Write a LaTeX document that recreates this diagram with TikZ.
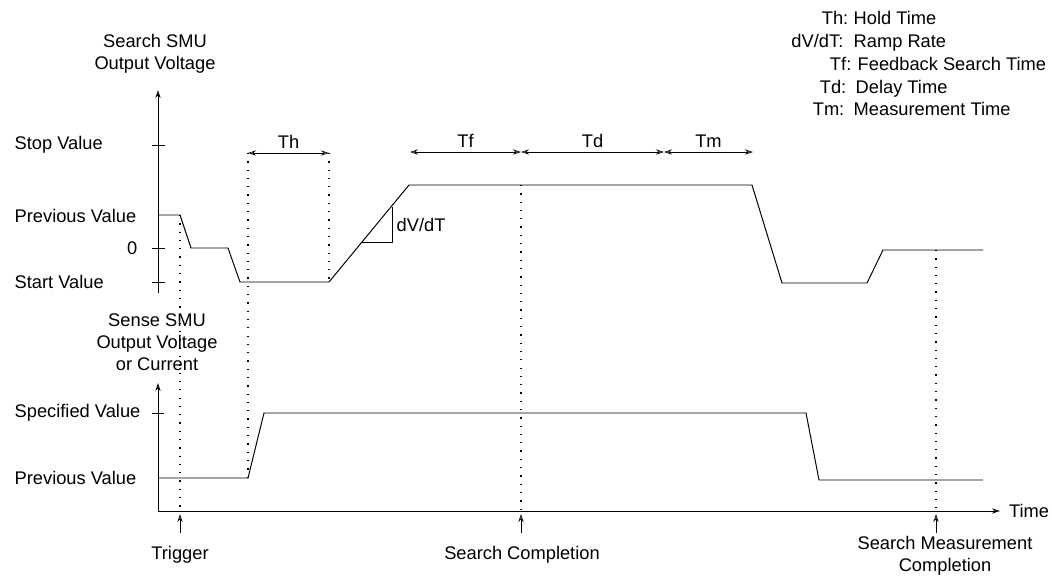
\documentclass[tikz,border=0pt]{standalone}
\usepackage{fontspec}
\setmainfont{Liberation Sans}
\usetikzlibrary{arrows.meta,positioning}
\tikzset{
  >={Stealth[length=2mm,width=1.3mm,open]},
  axis/.style={->,line width=0.6pt},
  trace/.style={line width=0.7pt,line join=round},
  guide/.style={line width=0.9pt,dash pattern=on 0.9pt off 5pt},
  span/.style={<->,line width=0.5pt},
  tickmark/.style={line width=0.6pt},
  evptr/.style={->,line width=0.5pt},
  lbl/.style={font=\fontsize{13}{15.8}\selectfont,inner sep=1pt},
  ylbl/.style={lbl,anchor=west},
  evlbl/.style={lbl,align=center},
  keylbl/.style={lbl,anchor=base east},
  desclbl/.style={lbl,anchor=base west},
}

\begin{document}
\begin{tikzpicture}[x=0.025cm,y=-0.025cm]
  \useasboundingbox (0,0) rectangle (1052,586);
  % axes
  \coordinate (o1) at (158,293);
  \coordinate (t1) at (158,90);
  \coordinate (o2) at (158,511);
  \coordinate (t2) at (158,383);
  \coordinate (tx) at (1000,511);
  \draw[axis] (o1) -- (t1);
  \draw[axis] (o2) -- (t2);
  \draw[axis] (o2) -- (tx);
  \node[lbl] (tlbl) at (1029,511) {Time};
  \node[evlbl] (ylbl1) at (155,54) {Search SMU\\Output Voltage};
  \node[evlbl] (ylbl2) at (157,342) {Sense SMU\\Output Voltage\\or Current};
  \foreach \y in {145,248,282} \draw[tickmark] (152,\y) -- (165,\y);
  \draw[tickmark] (152,413) -- (164,413);
  \node[ylbl] (stop) at (13,145) {Stop Value};
  \node[ylbl] (prev1) at (13,216) {Previous Value};
  \node[lbl,anchor=east] (zero) at (139,248) {0};
  \node[ylbl] (start) at (13,282) {Start Value};
  \node[ylbl] (spec) at (13,413) {Specified Value};
  \node[ylbl] (prev2) at (13,478) {Previous Value};

  % waveforms
  \draw[trace] (158,215) -- (180,215) -- (191,248) -- (228,248) -- (240,282)
    -- (329,282) -- (409,185) -- (752,185) -- (782,283) -- (867,283)
    -- (883,250) -- (983,250);
  \draw[trace] (362,242) -- (392,242) -- (392,207);
  \node[lbl,anchor=west] (rate) at (395,225) {dV/dT};
  \draw[trace] (158,478) -- (248,478) -- (264,413) -- (806,413) -- (819,480)
    -- (983,480);

  % timing guides
  \coordinate (trg) at (180,215);
  \coordinate (hA) at (248,153);
  \coordinate (hB) at (329,153);
  \coordinate (cmp) at (521,185);
  \coordinate (smc) at (936,250);
  \draw[guide] (trg) -- (trg |- o2);
  \draw[guide] (hA) -- (248,478);
  \draw[guide] (hB) -- (329,282);
  \draw[guide] (cmp) -- (cmp |- o2);
  \draw[guide] (smc) -- (smc |- o2);

  % spans
  \coordinate (fA) at (410,152);
  \coordinate (fB) at (521,152);
  \coordinate (dB) at (664,152);
  \coordinate (mB) at (753,152);
  \draw[span] (hA) -- (hB) node[lbl,midway,above=2pt] (th) {Th};
  \draw[span] (fA) -- (fB) node[lbl,midway,above=2pt] (tf) {Tf};
  \draw[span] (fB) -- (dB) node[lbl,midway,above=2pt] (td) {Td};
  \draw[span] (dB) -- (mB) node[lbl,midway,above=2pt] (tm) {Tm};

  % events
  \draw[evptr] (180,533) -- (180,514);
  \draw[evptr] (521,533) -- (521,514);
  \draw[evptr] (936,533) -- (936,514);
  \node[evlbl] (ev1) at (180,555) {Trigger};
  \node[evlbl] (ev2) at (522,555) {Search Completion};
  \node[evlbl] (ev3) at (945,556) {Search Measurement\\Completion};

  % key
  \node[keylbl] (k1) at (850,24) {Th:};
  \node[desclbl] (d1) at (852,24) {Hold Time};
  \node[keylbl] (k2) at (845,47) {dV/dT:};
  \node[desclbl] (d2) at (852,47) {Ramp Rate};
  \node[keylbl] (k3) at (853,70) {Tf:};
  \node[desclbl] (d3) at (856,70) {Feedback Search Time};
  \node[keylbl] (k4) at (848,93) {Td:};
  \node[desclbl] (d4) at (854,93) {Delay Time};
  \node[keylbl] (k5) at (846,115) {Tm:};
  \node[desclbl] (d5) at (852,115) {Measurement Time};
\end{tikzpicture}
\end{document}
